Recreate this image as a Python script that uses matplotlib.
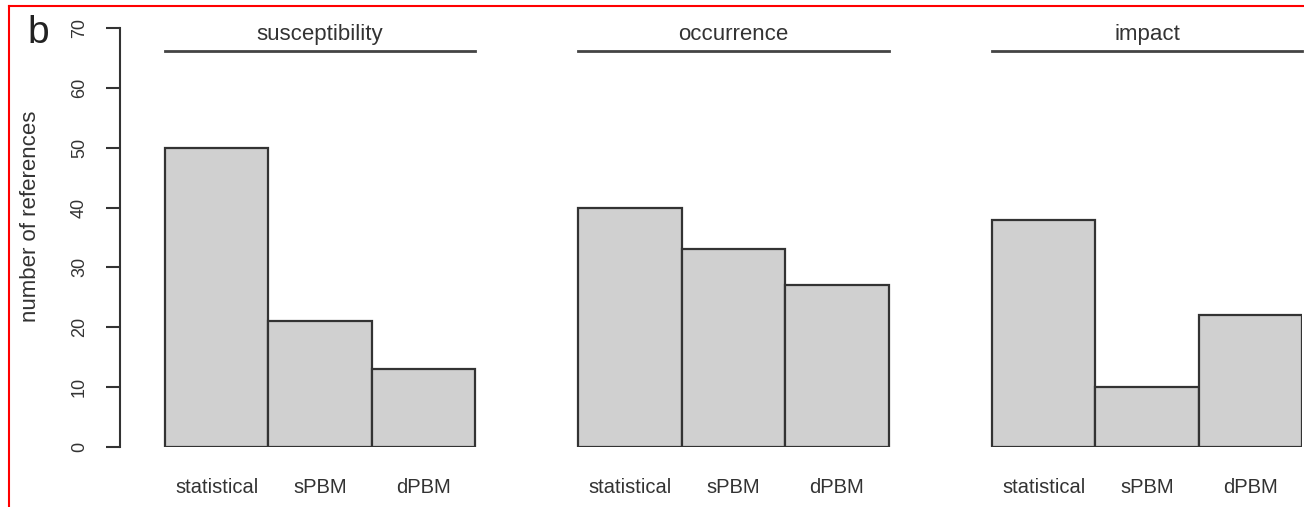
import matplotlib
matplotlib.use("Agg")
import matplotlib.pyplot as plt
from matplotlib.lines import Line2D
import numpy as np

plt.rcParams['font.family'] = ['Liberation Sans', 'DejaVu Sans']

# datos: número de referencias por tipo de modelo
grupos = ['susceptibility', 'occurrence', 'impact']
metodos = ['statistical', 'sPBM', 'dPBM']
susceptibility = [50, 21, 13]
occurrence = [40, 33, 27]
impact = [38, 10, 22]
valores = [susceptibility, occurrence, impact]
yticks = [0, 10, 20, 30, 40, 50, 60, 70]

W, H = 1304, 507
fig = plt.figure(figsize=(W / 100, H / 100), dpi=100)

# ejes en coordenadas de píxel: eje y en x=120, barras hasta x=1302
x0, x1 = 120, 1302
y0, y1 = 447, 28
ax = fig.add_axes([x0 / W, 1 - y0 / H, (x1 - x0) / W, (y0 - y1) / H])

gris = '#333333'
relleno = '#d0d0d0'
ancho = 1.0
izq = 0.436  # hueco entre el eje y la primera barra

for g, (nombre, vals) in enumerate(zip(grupos, valores)):
    base = 4 * g
    pos = base + np.arange(3)
    ax.bar(pos, vals, width=ancho, align='edge', color=relleno,
           edgecolor=gris, linewidth=1.6, zorder=2)
    for p, m in zip(pos, metodos):
        ax.text(p + 0.5, -6.8, m, ha='center', va='center',
                fontsize=14.5, color=gris, clip_on=False)
    # línea y título de cada grupo
    ax.add_line(Line2D([base, base + 3], [66.2, 66.2], color='#444444',
                       lw=2, clip_on=False))
    ax.text(base + 1.5, 68.9, nombre, ha='center', va='center',
            fontsize=16, color=gris, clip_on=False)

ax.set_xlim(-izq, 11)
ax.set_ylim(0, 70)
for s in ['top', 'right', 'bottom']:
    ax.spines[s].set_visible(False)
ax.spines['left'].set_color(gris)
ax.spines['left'].set_linewidth(1.5)
ax.set_xticks([])
ax.set_yticks(yticks)
ax.set_yticklabels([str(t) for t in yticks], rotation=90, va='center',
                   fontsize=13, color=gris)
ax.tick_params(axis='y', length=10, width=1.5, color=gris, pad=13)
ax.set_ylabel('number of references', fontsize=16, color=gris,
              va='center')
ax.yaxis.set_label_coords(-0.076, 0.551)

fig.text(38 / W, 1 - 33 / H, 'b', fontsize=28, color='#222222',
         ha='center', va='center')

# marco rojo (izquierda y arriba)
fig.add_artist(Line2D([8.5 / W, 8.5 / W], [0, 1 - 6 / H], color='red',
                      lw=1.5, transform=fig.transFigure))
fig.add_artist(Line2D([8.5 / W, 1], [1 - 6 / H, 1 - 6 / H], color='red',
                      lw=1.5, transform=fig.transFigure))

fig.savefig('out.png', dpi=100)
